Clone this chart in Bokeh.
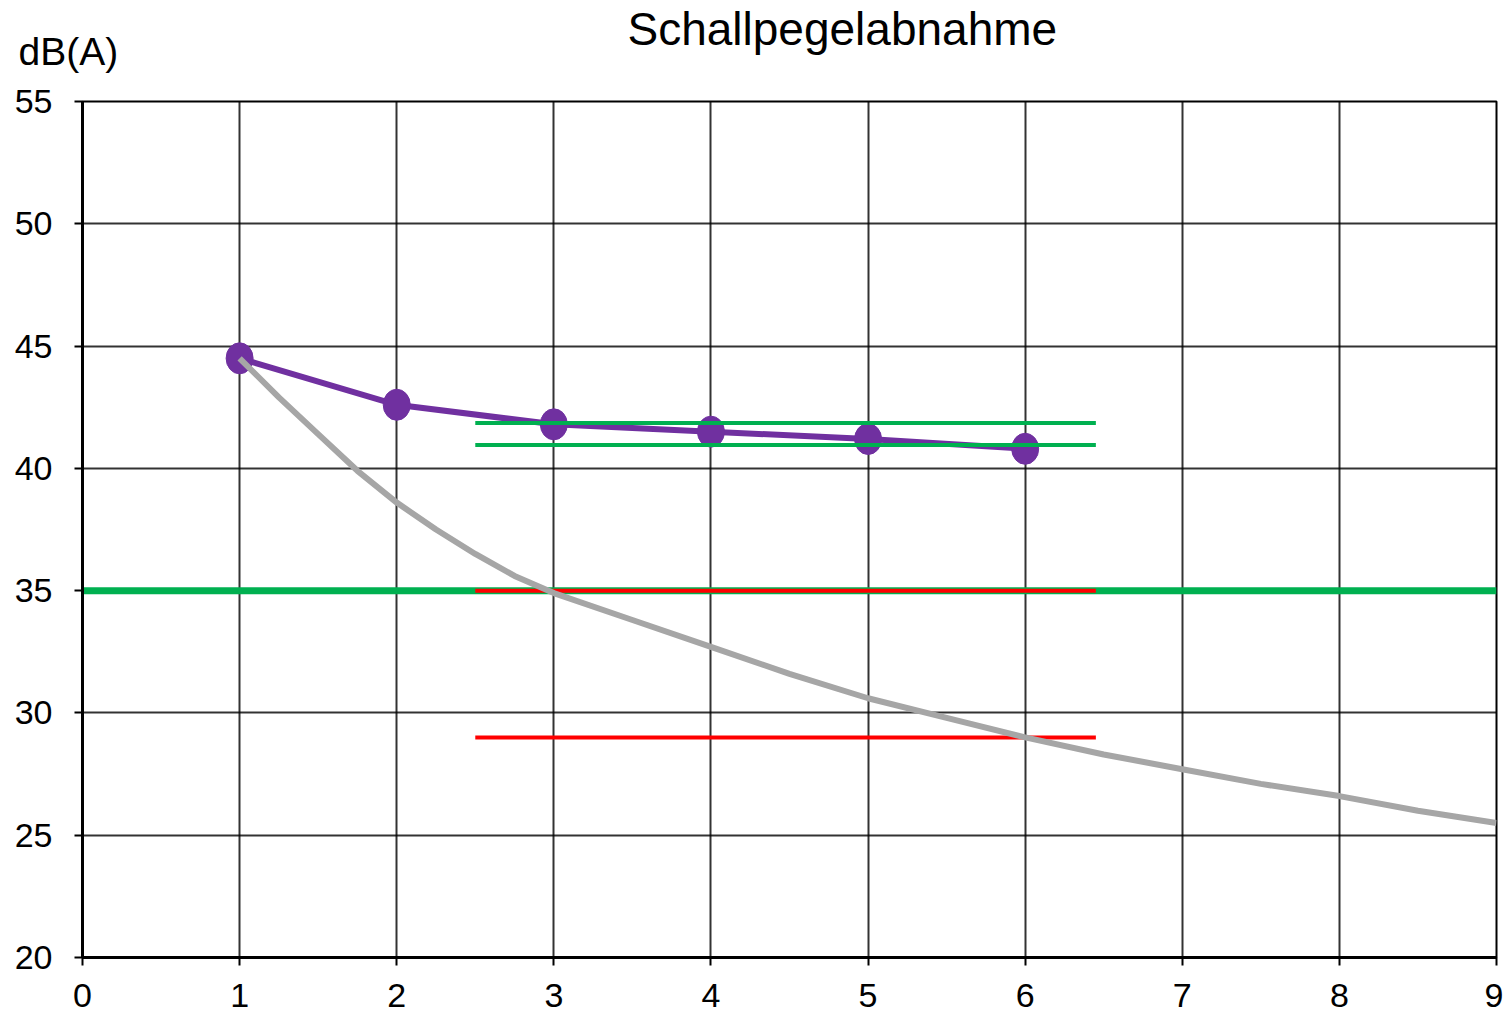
from bokeh.plotting import figure
from bokeh.models import FixedTicker, Range1d, Title
from bokeh.embed import file_html
from bokeh.resources import INLINE

# Data
dist_points = [1, 2, 3, 4, 5, 6]
measured_db = [44.5, 42.6, 41.8, 41.5, 41.2, 40.8]

curve_x = [1, 1.25, 1.5, 1.75, 2, 2.25, 2.5, 2.75, 3, 3.5, 4, 4.5, 5, 5.5, 6, 6.5, 7, 7.5, 8, 8.5, 9]
curve_db = [44.5, 42.9, 41.4, 39.9, 38.6, 37.5, 36.5, 35.6, 34.9, 33.8, 32.7, 31.6, 30.6, 29.8,
            29.0, 28.3, 27.7, 27.1, 26.6, 26.0, 25.5]

limit_db = 35
band_x = [2.5, 6.45]
green_band = [41.85, 40.95]
red_band = [35.0, 29.0]

x_ticks = list(range(0, 10))
y_ticks = [20, 25, 30, 35, 40, 45, 50, 55]

FONT = "Liberation Sans"

p = figure(width=1503, height=1016, output_backend="svg", toolbar_location=None,
           x_range=Range1d(0, 9), y_range=Range1d(20, 55),
           min_border_left=82, min_border_right=7, min_border_top=101, min_border_bottom=59)

p.outline_line_color = "black"
p.outline_line_width = 2
p.outline_line_alpha = 1

for ax in (p.xaxis[0], p.yaxis[0]):
    ax.axis_line_width = 3
    ax.axis_line_color = "black"
    ax.major_tick_line_width = 2
    ax.major_tick_line_color = "black"
    ax.major_tick_out = 8
    ax.major_tick_in = 0
    ax.minor_tick_line_color = None
    ax.major_label_text_font = FONT
    ax.major_label_text_font_size = "34px"
    ax.major_label_text_color = "black"

p.xaxis[0].ticker = FixedTicker(ticks=x_ticks)
p.yaxis[0].ticker = FixedTicker(ticks=y_ticks)
p.xaxis[0].major_label_standoff = 18
p.yaxis[0].major_label_standoff = 22

p.xgrid[0].ticker = FixedTicker(ticks=x_ticks)
p.ygrid[0].ticker = FixedTicker(ticks=y_ticks)
for g in (p.xgrid[0], p.ygrid[0]):
    g.grid_line_color = "black"
    g.grid_line_width = 2
    g.grid_line_alpha = 0.8

# thick green limit line
p.line([0, 9], [limit_db, limit_db], line_color="#00B050", line_width=7)

# red band lines
for yv in red_band:
    p.line(band_x, [yv, yv], line_color="#FF0000", line_width=4)

# measured series
p.line(dist_points, measured_db, line_color="#7030A0", line_width=6)
p.ellipse(dist_points, measured_db, width=27, height=31,
          width_units="screen", height_units="screen",
          fill_color="#7030A0", line_color="#7030A0")

# gray theoretical curve
p.line(curve_x, curve_db, line_color="#A6A6A6", line_width=6, line_join="round")

# green band lines
for yv in green_band:
    p.line(band_x, [yv, yv], line_color="#00B050", line_width=4)

unit_title = Title(text="dB(A)", align="left", offset=-64, vertical_align="top", standoff=54,
                   text_font=FONT, text_font_size="39px", text_font_style="normal", text_color="black")
main_title = Title(text="Schallpegelabnahme", align="left", offset=545, vertical_align="bottom",
                   standoff=-104, text_font=FONT, text_font_size="46px", text_font_style="normal",
                   text_color="black")
p.add_layout(unit_title, "above")
p.add_layout(main_title, "above")

open("out.html", "w").write(file_html(p, INLINE))
